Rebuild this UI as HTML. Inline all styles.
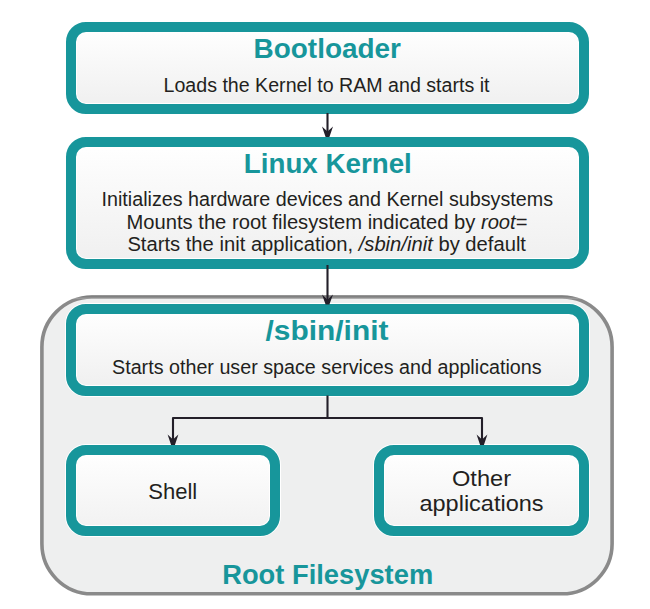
<!DOCTYPE html>
<html><head><meta charset="utf-8">
<style>
html,body{margin:0;padding:0;background:#fff;}
body{width:650px;height:609px;overflow:hidden;position:relative;}
svg{position:absolute;left:0;top:0;}
text{font-family:"Liberation Sans",sans-serif;}
.t{fill:#17969b;font-weight:bold;font-size:27.5px;}
.b{fill:#231f20;font-size:20px;}
</style></head><body>
<svg width="650" height="609" viewBox="0 0 650 609">
<defs>
<linearGradient id="g" x1="0" y1="0" x2="0" y2="1">
<stop offset="0" stop-color="#ffffff"/>
<stop offset="1" stop-color="#efefef"/>
</linearGradient>
<linearGradient id="g2" x1="0" y1="0" x2="0" y2="1">
<stop offset="0" stop-color="#ffffff"/>
<stop offset="1" stop-color="#f1f1f1"/>
</linearGradient>
<linearGradient id="gs" gradientUnits="userSpaceOnUse" x1="0" y1="295" x2="0" y2="596">
<stop offset="0" stop-color="#6c6c6c"/>
<stop offset="0.0135" stop-color="#a2a2a2"/>
<stop offset="0.014" stop-color="#8a8a8a"/>
<stop offset="1" stop-color="#8a8a8a"/>
</linearGradient>
</defs>
<!-- gray container -->
<rect x="41.9" y="297" width="570.2" height="296.8" rx="50" ry="50" fill="#eeefef" stroke="url(#gs)" stroke-width="3.6"/>
<!-- boxes -->
<rect x="71" y="27" width="513" height="82" rx="15" ry="15" fill="url(#g)" stroke="#ffffff" stroke-width="12"/>
<rect x="71" y="27" width="513" height="82" rx="15" ry="15" fill="none" stroke="#17969b" stroke-width="10"/>
<rect x="71" y="142" width="513" height="122" rx="15" ry="15" fill="url(#g)" stroke="#ffffff" stroke-width="12"/>
<rect x="71" y="142" width="513" height="122" rx="15" ry="15" fill="none" stroke="#17969b" stroke-width="10"/>
<rect x="71" y="309" width="513" height="82" rx="15" ry="15" fill="url(#g)" stroke="#ffffff" stroke-width="12"/>
<rect x="71" y="309" width="513" height="82" rx="15" ry="15" fill="none" stroke="#17969b" stroke-width="10"/>
<rect x="71" y="450" width="204" height="81" rx="15" ry="15" fill="url(#g2)" stroke="#ffffff" stroke-width="12"/>
<rect x="71" y="450" width="204" height="81" rx="15" ry="15" fill="none" stroke="#17969b" stroke-width="10"/>
<rect x="379" y="450" width="205" height="81" rx="15" ry="15" fill="url(#g2)" stroke="#ffffff" stroke-width="12"/>
<rect x="379" y="450" width="205" height="81" rx="15" ry="15" fill="none" stroke="#17969b" stroke-width="10"/>
<!-- arrows -->
<g stroke="#231f29" stroke-width="2.1" fill="none">
<line x1="327.5" y1="113" x2="327.5" y2="132"/>
<line x1="327.5" y1="265" x2="327.5" y2="300"/>
<line x1="327.5" y1="395.5" x2="327.5" y2="418"/>
<polyline points="173,440 173,418 482,418 482,440" stroke-linejoin="round"/>
</g>
<g fill="#231f29">
<path d="M322,126.5 L325.6,137 L329.4,137 L333,126.5 L327.5,131.5 Z"/>
<path d="M322,294.5 L325.6,304.5 L329.4,304.5 L333,294.5 L327.5,299.5 Z"/>
<path d="M167.6,434.5 L171.1,445 L174.9,445 L178.4,434.5 L173,439.5 Z"/>
<path d="M476.6,434.5 L480.1,445 L483.9,445 L487.4,434.5 L482,439.5 Z"/>
</g>
<!-- texts -->
<text class="t" x="253.5" y="58" textLength="147.5" lengthAdjust="spacingAndGlyphs">Bootloader</text>
<text class="b" x="163.5" y="92" textLength="326" lengthAdjust="spacingAndGlyphs">Loads the Kernel to RAM and starts it</text>
<text class="t" x="243.8" y="173" textLength="168" lengthAdjust="spacingAndGlyphs">Linux Kernel</text>
<text class="b" x="101.5" y="205.5" textLength="451.5" lengthAdjust="spacingAndGlyphs">Initializes hardware devices and Kernel subsystems</text>
<text class="b" x="126.5" y="228.5" textLength="401" lengthAdjust="spacingAndGlyphs">Mounts the root filesystem indicated by <tspan font-style="italic">root</tspan>=</text>
<text class="b" x="127.4" y="250.8" textLength="398.6" lengthAdjust="spacingAndGlyphs">Starts the init application, <tspan font-style="italic">/sbin/init</tspan> by default</text>
<text class="t" x="265.5" y="340" textLength="123" lengthAdjust="spacingAndGlyphs">/sbin/init</text>
<text class="b" x="112" y="374" textLength="429.6" lengthAdjust="spacingAndGlyphs">Starts other user space services and applications</text>
<text class="b" style="font-size:21.7px" x="148.2" y="499" textLength="49" lengthAdjust="spacingAndGlyphs">Shell</text>
<text class="b" style="font-size:21.7px" x="452" y="485.5" textLength="59" lengthAdjust="spacingAndGlyphs">Other</text>
<text class="b" style="font-size:21.7px" x="419.5" y="511" textLength="124" lengthAdjust="spacingAndGlyphs">applications</text>
<text class="t" x="222.2" y="584" textLength="211" lengthAdjust="spacingAndGlyphs">Root Filesystem</text>
</svg>
</body></html>
